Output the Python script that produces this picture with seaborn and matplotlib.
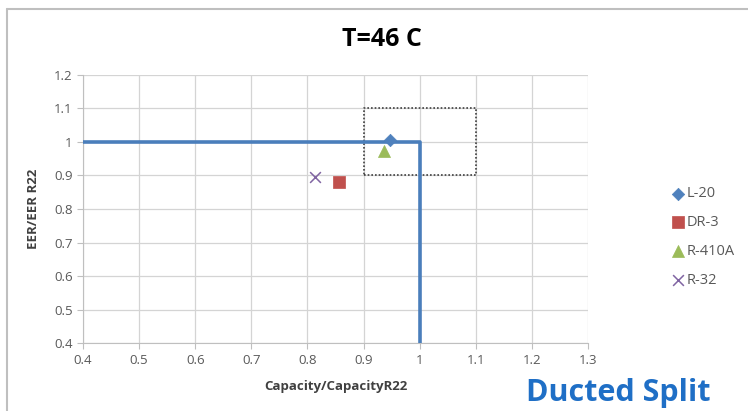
import matplotlib
matplotlib.use("Agg")
import matplotlib.pyplot as plt
from matplotlib.lines import Line2D
import seaborn as sns
import pandas as pd

# refrigerant points
refrigerants = ["L-20", "DR-3", "R-410A", "R-32"]
capacity = [0.947, 0.857, 0.936, 0.813]
eer = [1.006, 0.879, 0.972, 0.895]
markers = ["D", "s", "^", "x"]
sizes = [40, 75, 75, 60]
colors = ["#4f81bd", "#c0504d", "#9bbb59", "#8064a2"]

# R22 limit line and the +-10% box
limit_x = [0.4, 1.0, 1.0]
limit_y = [1.0, 1.0, 0.4]
box_x = [0.9, 1.1, 1.1, 0.9, 0.9]
box_y = [0.9, 0.9, 1.1, 1.1, 0.9]

xticks = [0.4, 0.5, 0.6, 0.7, 0.8, 0.9, 1, 1.1, 1.2, 1.3]
yticks = [0.4, 0.5, 0.6, 0.7, 0.8, 0.9, 1, 1.1, 1.2]

df = pd.DataFrame({"ref": refrigerants, "cap": capacity, "eer": eer})

sns.set_style("white")
plt.rcParams['font.family'] = ['Open Sans', 'DejaVu Sans']

fig = plt.figure(figsize=(7.48, 4.11), dpi=100)
ax = fig.add_axes([0.111, 0.165, 0.675, 0.653])

lim = pd.DataFrame({"x": limit_x, "y": limit_y})
sns.lineplot(data=lim, x="x", y="y", sort=False, estimator=None, errorbar=None,
             color="#4a7ebb", lw=2.6, ax=ax, zorder=3)
box = pd.DataFrame({"x": box_x, "y": box_y})
sns.lineplot(data=box, x="x", y="y", sort=False, estimator=None, errorbar=None,
             color="#404040", lw=1.2, linestyle=(0, (1, 1.2)), ax=ax, zorder=2)

for i, r in enumerate(refrigerants):
    sub = df[df.ref == r]
    if markers[i] == "x":
        sns.scatterplot(data=sub, x="cap", y="eer", marker="x", color=colors[i],
                        s=sizes[i], linewidth=1.1, label=r, ax=ax, zorder=4)
    else:
        sns.scatterplot(data=sub, x="cap", y="eer", marker=markers[i], color=colors[i],
                        s=sizes[i], edgecolor=colors[i], linewidth=0.5, label=r, ax=ax, zorder=4)

ax.set_xlim(0.4, 1.3)
ax.set_ylim(0.4, 1.2)
ax.set_xticks(xticks)
ax.set_yticks(yticks)
ax.set_xticklabels([f"{t:g}" for t in xticks])
ax.set_yticklabels([f"{t:g}" for t in yticks])
ax.grid(True, color="#d4d4d4", lw=0.9)
for s in ["top", "right"]:
    ax.spines[s].set_visible(False)
for s in ["left", "bottom"]:
    ax.spines[s].set_color("#bfbfbf")
ax.tick_params(axis="both", length=4, color="#bfbfbf", labelsize=9.5, labelcolor="#595959",
               direction="out", bottom=True, left=True)

ax.set_xlabel("Capacity/CapacityR22", fontsize=9.5, fontweight="bold", color="#404040", labelpad=10)
ax.set_ylabel("EER/EER R22", fontsize=9.5, fontweight="bold", color="#404040", labelpad=10)

leg = ax.legend(loc="center left", bbox_to_anchor=(0.898, 0.423), bbox_transform=fig.transFigure,
                frameon=False, fontsize=10.5, labelspacing=0.95, handletextpad=0.15,
                handlelength=0.85, borderpad=0, borderaxespad=0)
for t in leg.get_texts():
    t.set_color("#595959")

fig.text(0.51, 0.905, "T=46 C", ha="center", va="center", fontsize=18, fontweight="bold", color="black")
fig.text(0.826, 0.043, "Ducted Split", ha="center", va="center", fontsize=22, fontweight="bold", color="#1f6fc6")

# chart-area border
fig.add_artist(Line2D([7 / 748, 7 / 748], [0, 1 - 9 / 411], color="#bfbfbf", lw=1.5))
fig.add_artist(Line2D([7 / 748, 1], [1 - 9 / 411, 1 - 9 / 411], color="#bfbfbf", lw=1.5))

fig.savefig("out.png", dpi=100)
